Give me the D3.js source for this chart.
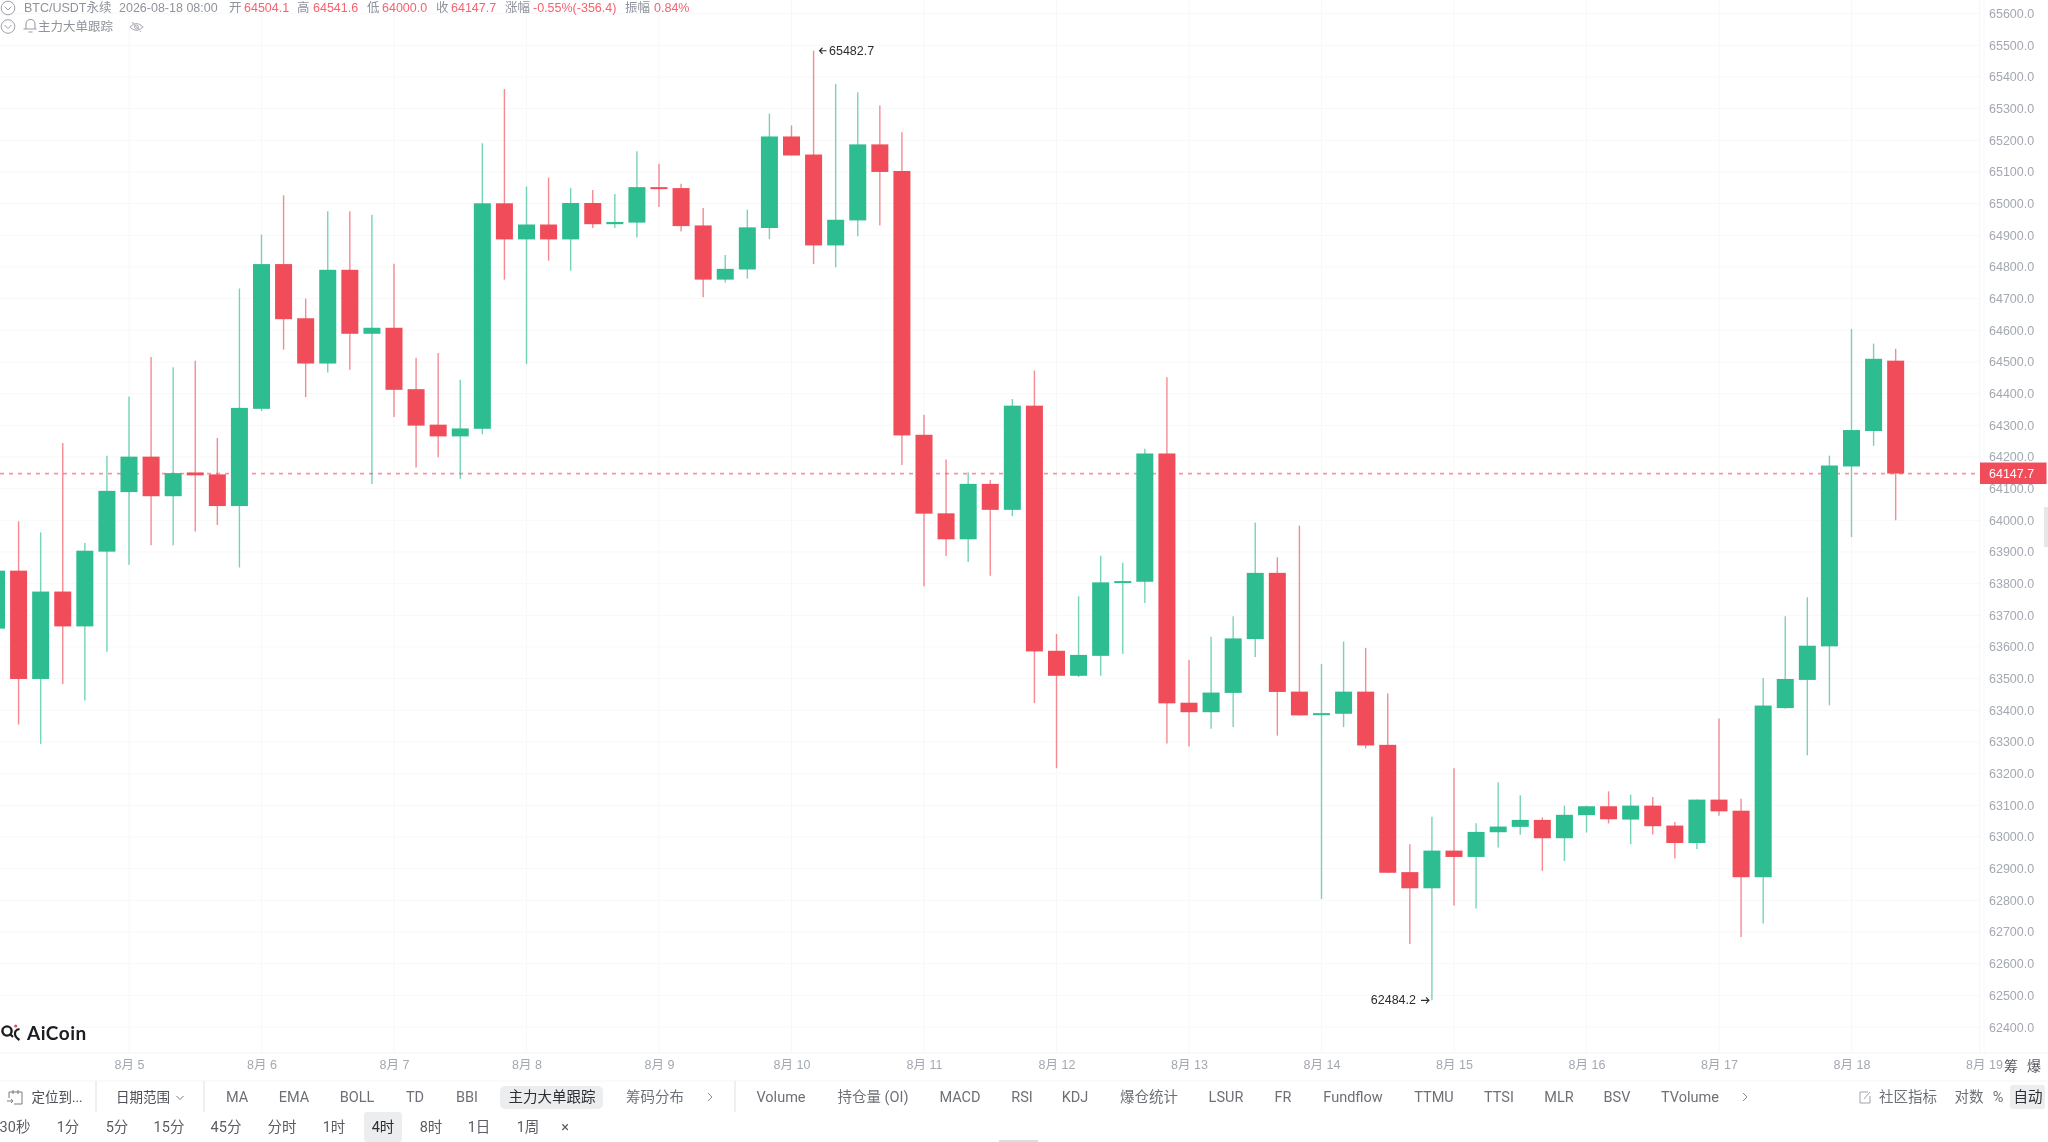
<!DOCTYPE html>
<html lang="zh">
<head>
<meta charset="UTF-8">
<title>BTC/USDT 4h</title>
<script src="https://cdn.jsdelivr.net/npm/d3@7"></script>
<style>
    html, body { margin: 0; padding: 0; background: #fff; overflow: hidden; }
    svg { display: block; filter: blur(0.35px); }
    text { font-family: "Liberation Sans", "Noto Sans CJK SC", sans-serif; }
    .bar text { font-family: Roboto, "Noto Sans CJK SC", sans-serif; font-size: 14.5px; fill: #6d7076; text-anchor: middle; }
    .axis text { font-size: 12.5px; fill: #a3a8b1; }
    .axis path, .axis line { display: none; }
</style>
</head>
<body>
<svg id="chart" width="2048" height="1142"></svg>
<script>
    // candles are 4h, index 0 = 8月5 00:00
    var firstIndex = -6;
    var candleOpen = [
        63658, 63841, 63499, 63775, 63665, 63901, 64089, 64201, 64076, 64151, 64145, 64045,
        64352, 64809, 64638, 64495, 64791, 64589, 64608, 64414, 64302, 64265, 64289, 65001,
        64887, 64934, 64887, 65002, 64935, 64940, 65052, 65049, 64931, 64760, 64792, 64923,
        65212, 65155, 64868, 64947, 65187, 65103, 64270, 64022, 63940, 64115, 64033, 64362,
        63588, 63509, 63572, 63803, 63806, 64211, 63424, 63394, 63455, 63625, 63834, 63459,
        63385, 63389, 63459, 63291, 62889, 62838, 62957, 62937, 63015, 63032, 63054, 62996,
        63069, 63097, 63055, 63099, 63036, 62981, 63118, 63083, 62873, 63407, 63496, 63602,
        64170, 64282, 64504.1
    ];
    var candleHigh = [
        63860, 63997, 63962, 64244, 63928, 64204, 64391, 64516, 64483, 64504, 64260, 64732,
        64902, 65026, 64700, 64976, 64976, 64965, 64810, 64513, 64528, 64444, 65191, 65362,
        65054, 65082, 65049, 65043, 65030, 65165, 65126, 65063, 64986, 64838, 64981, 65284,
        65247, 65482.7, 65378, 65352, 65310, 65225, 64333, 64192, 64152, 64127, 64383, 64473,
        63641, 63760, 63888, 63866, 64226, 64452, 63559, 63632, 63697, 63993, 63883, 63983,
        63546, 63617, 63597, 63453, 62977, 63064, 63217, 63043, 63173, 63132, 63062, 63099,
        63099, 63144, 63134, 63126, 63047, 63118, 63374, 63121, 63502, 63697, 63757, 64204,
        64604, 64558, 64541.6
    ];
    var candleLow = [
        63640, 63355, 63294, 63483, 63431, 63585, 63860, 63921, 63921, 63965, 63985, 63851,
        64345, 64539, 64389, 64467, 64475, 64115, 64326, 64167, 64199, 64131, 64272, 64760,
        64494, 64820, 64788, 64923, 64923, 64893, 64989, 64912, 64704, 64751, 64763, 64888,
        65152, 64809, 64799, 64897, 64931, 64175, 63792, 63887, 63868, 63825, 64013, 63423,
        63217, 63505, 63509, 63579, 63739, 63295, 63286, 63342, 63347, 63568, 63320, 63384,
        62804, 63347, 63280, 62887, 62662, 62484.2, 62784, 62774, 62967, 63007, 62893, 62924,
        63014, 63043, 62977, 63008, 62932, 62962, 63067, 62684, 62727, 63405, 63258, 63416,
        63947, 64235, 64000
    ];
    var candleClose = [
        63841, 63499, 63775, 63665, 63904, 64093, 64201, 64076, 64149, 64142, 64045, 64355,
        64809, 64635, 64495, 64791, 64589, 64608, 64412, 64299, 64265, 64290, 65001, 64887,
        64934, 64887, 65002, 64935, 64942, 65052, 65047, 64929, 64760, 64794, 64925, 65212,
        65152, 64868, 64949, 65187, 65100, 64268, 64021, 63940, 64115, 64033, 64362, 63586,
        63509, 63575, 63804, 63808, 64211, 63422, 63394, 63456, 63627, 63834, 63458, 63384,
        63391, 63459, 63289, 62887, 62838, 62957, 62937, 63016, 63033, 63054, 62996, 63070,
        63097, 63056, 63099, 63034, 62981, 63118, 63081, 62873, 63415, 63499, 63604, 64173,
        64285, 64510, 64147.7
    ];

    var priceTicks = d3.range(62400, 65601, 100);
    var dayIndex = [0, 6, 12, 18, 24, 30, 36, 42, 48, 54, 60, 66, 72, 78, 84];
    var dayLabels = ["8月 5", "8月 6", "8月 7", "8月 8", "8月 9", "8月 10", "8月 11", "8月 12",
        "8月 13", "8月 14", "8月 15", "8月 16", "8月 17", "8月 18", "8月 19"];

    var lastPrice = 64147.7, highPrice = 65482.7, lowPrice = 62484.2;

    var topBarLabels = ["定位到...", "日期范围", "MA", "EMA", "BOLL", "TD", "BBI", "主力大单跟踪", "筹码分布",
        "Volume", "持仓量 (OI)", "MACD", "RSI", "KDJ", "爆仓统计", "LSUR", "FR", "Fundflow",
        "TTMU", "TTSI", "MLR", "BSV", "TVolume", "社区指标", "对数", "%", "自动"];
    var topBarCenters = [57, 143, 237, 294, 357, 415, 467, 552, 655,
        781, 873, 960, 1022, 1075, 1149, 1226, 1283, 1353,
        1434, 1499, 1559, 1617, 1690, 1908, 1969, 1998, 2028];
    var periodLabels = ["30秒", "1分", "5分", "15分", "45分", "分时", "1时", "4时", "8时", "1日", "1周", "×"];
    var periodCenters = [15, 68, 117, 169, 226, 282, 334, 383, 431, 479, 528, 565];

    var width = 2048, plotRight = 1980, plotBottom = 1053;
    var green = "#2ebc91", red = "#f04c59";

    var svg = d3.select("#chart");

    var x = d3.scaleLinear().domain([0, 78]).range([129, 1851.5]);
    var y = d3.scaleLinear().domain([62400, 65600]).range([1027, 13.6]);

    // grid
    svg.append("g").selectAll("line").data(priceTicks).enter().append("line")
        .attr("x1", 0).attr("x2", plotRight)
        .attr("y1", function(d) { return y(d); }).attr("y2", function(d) { return y(d); })
        .attr("stroke", "#f8f8f9");
    svg.append("g").selectAll("line").data(dayIndex).enter().append("line")
        .attr("x1", function(d) { return x(d); }).attr("x2", function(d) { return x(d); })
        .attr("y1", 0).attr("y2", plotBottom)
        .attr("stroke", "#f8f8f9");
    svg.append("line").attr("x1", plotRight).attr("x2", plotRight).attr("y1", 0).attr("y2", plotBottom).attr("stroke", "#f4f5f6");
    svg.append("line").attr("x1", 0).attr("x2", width).attr("y1", plotBottom).attr("y2", plotBottom).attr("stroke", "#f4f5f6");
    svg.append("line").attr("x1", 0).attr("x2", width).attr("y1", 1081).attr("y2", 1081).attr("stroke", "#f5f5f6");

    // axes
    svg.append("g").attr("class", "axis").attr("transform", "translate(" + plotRight + ",0)")
        .call(d3.axisRight(y).tickValues(priceTicks).tickFormat(d3.format(".1f")).tickSize(0).tickPadding(9));
    svg.append("g").attr("class", "axis").attr("transform", "translate(0," + plotBottom + ")")
        .call(d3.axisBottom(x).tickValues(dayIndex).tickFormat(function(d, i) { return dayLabels[i]; }).tickSize(0).tickPadding(7.5));

    // last price line sits under the candles' wicks but over the grid
    svg.append("line").attr("x1", 0).attr("x2", plotRight)
        .attr("y1", y(lastPrice)).attr("y2", y(lastPrice))
        .attr("stroke", "#ff929b").attr("stroke-width", 1.7).attr("stroke-dasharray", "4 5");

    // candles
    var candles = candleOpen.map(function(o, i) {
        return { i: firstIndex + i, open: o, high: candleHigh[i], low: candleLow[i], close: candleClose[i] };
    });
    var bodyWidth = 17;
    function candleColor(d) { return d.close >= d.open ? green : red; }

    var g = svg.append("g").selectAll("g").data(candles).enter().append("g");
    g.append("line")
        .attr("x1", function(d) { return x(d.i); }).attr("x2", function(d) { return x(d.i); })
        .attr("y1", function(d) { return y(d.high); }).attr("y2", function(d) { return y(d.low); })
        .attr("stroke", candleColor).attr("stroke-width", 1.4).attr("stroke-opacity", 0.65);
    g.append("rect")
        .attr("x", function(d) { return x(d.i) - bodyWidth / 2; })
        .attr("width", bodyWidth)
        .attr("y", function(d) { return y(Math.max(d.open, d.close)); })
        .attr("height", function(d) { return Math.max(2, Math.abs(y(d.open) - y(d.close))); })
        .attr("fill", candleColor);

    // high / low marks
    svg.append("text").attr("x", 829).attr("y", y(highPrice) - 0.6).attr("dy", "0.35em")
        .attr("font-size", 12.5).attr("fill", "#2a2c30").text("65482.7");
    svg.append("text").attr("x", 1416).attr("y", y(lowPrice) - 0.6).attr("dy", "0.35em")
        .attr("text-anchor", "end").attr("font-size", 12.5).attr("fill", "#2a2c30").text("62484.2");
    svg.append("path").attr("d", "M826.5 " + y(highPrice) + "H819.5m3 -3l-3 3l3 3").attr("fill", "none").attr("stroke", "#2a2c30").attr("stroke-width", 1.1);
    svg.append("path").attr("d", "M1421 " + y(lowPrice) + "H1429m-3 -3l3 3l-3 3").attr("fill", "none").attr("stroke", "#2a2c30").attr("stroke-width", 1.1);

    // last price tag
    svg.append("rect").attr("x", plotRight).attr("y", y(lastPrice) - 11).attr("width", 66.5).attr("height", 21.5).attr("fill", red);
    svg.append("text").attr("x", 1989).attr("y", y(lastPrice)).attr("dy", "0.35em")
        .attr("font-size", 12.5).attr("fill", "#fff").text("64147.7");

    // header
    var legend = svg.append("g").attr("font-size", 12.5);
    var legendParts = [
        ["BTC/USDT永续", 24, "#8f939b"], ["2026-08-18 08:00", 119, "#8f939b"],
        ["开", 229, "#8f939b"], ["64504.1", 244, "#f5636f"],
        ["高", 297, "#8f939b"], ["64541.6", 313, "#f5636f"],
        ["低", 367, "#8f939b"], ["64000.0", 382, "#f5636f"],
        ["收", 436, "#8f939b"], ["64147.7", 451, "#f5636f"],
        ["涨幅", 505, "#8f939b"], ["-0.55%(-356.4)", 533, "#f5636f"],
        ["振幅", 625, "#8f939b"], ["0.84%", 654, "#f5636f"]
    ];
    legend.selectAll("text").data(legendParts).enter().append("text")
        .attr("x", function(d) { return d[1]; }).attr("y", 8).attr("dy", "0.35em")
        .attr("fill", function(d) { return d[2]; }).text(function(d) { return d[0]; });
    svg.append("text").attr("x", 38).attr("y", 26.5).attr("dy", "0.35em").attr("font-size", 12.5).attr("fill", "#8f939b").text("主力大单跟踪");

    [8, 26.5].forEach(function(cy) {
        svg.append("circle").attr("cx", 8).attr("cy", cy).attr("r", 6.8).attr("fill", "#fff").attr("stroke", "#9a9ea6");
        svg.append("path").attr("d", "M4.5 " + (cy - 1.5) + "l3.5 3.5l3.5 -3.5").attr("fill", "none").attr("stroke", "#9a9ea6");
    });
    // bell
    svg.append("path").attr("d", "M26 29V24a4.5 4.5 0 0 1 9 0V29M23.5 29H36.5M28.5 32H32.5").attr("fill", "none").attr("stroke", "#9a9ea6").attr("stroke-width", 1.1);
    // eye off
    svg.append("path").attr("d", "M130 27q6.5 -7 13 0q-6.5 7 -13 0M132 22l9 10").attr("fill", "none").attr("stroke", "#a9adb4").attr("stroke-width", 1.1);
    svg.append("circle").attr("cx", 136.5).attr("cy", 27).attr("r", 2).attr("fill", "none").attr("stroke", "#a9adb4");

    // logo
    svg.append("circle").attr("cx", 7).attr("cy", 1031).attr("r", 4.6).attr("fill", "none").attr("stroke", "#1b1d21").attr("stroke-width", 2.4);
    svg.append("path").attr("d", "M10 1034l3 3M19.5 1029q-5 1 -4.5 5q0 3 4.5 6").attr("fill", "none").attr("stroke", "#1b1d21").attr("stroke-width", 2.2);
    svg.append("circle").attr("cx", 15.7).attr("cy", 1026).attr("r", 1.6).attr("fill", "#f04c59");
    svg.append("text").attr("x", 27).attr("y", 1033.5).attr("dy", "0.35em")
        .attr("font-size", 19).attr("font-weight", 700).attr("letter-spacing", 0.5).attr("fill", "#1b1d21").style("font-family", "Lato, sans-serif").text("AiCoin");

    // side labels on the time axis
    svg.append("text").attr("x", 2011).attr("y", 1066).attr("dy", "0.35em").attr("text-anchor", "middle").attr("font-size", 14).attr("fill", "#55585e").text("筹");
    svg.append("text").attr("x", 2034).attr("y", 1066).attr("dy", "0.35em").attr("text-anchor", "middle").attr("font-size", 14).attr("fill", "#55585e").text("爆");

    // toolbars
    var bar = svg.append("g").attr("class", "bar");
    bar.append("rect").attr("x", 500).attr("y", 1086).attr("width", 103).attr("height", 23).attr("rx", 5).attr("fill", "#ecedee");
    bar.append("rect").attr("x", 2010).attr("y", 1085).attr("width", 35).attr("height", 24).attr("rx", 3).attr("fill", "#ecedee");
    bar.append("rect").attr("x", 364).attr("y", 1112).attr("width", 38).attr("height", 30).attr("rx", 3).attr("fill", "#ecedee");

    bar.selectAll("text.top").data(topBarLabels).enter().append("text").attr("class", "top")
        .attr("x", function(d, i) { return topBarCenters[i]; }).attr("y", 1097).attr("dy", "0.35em")
        .style("fill", function(d) { return d == "主力大单跟踪" || d == "自动" ? "#2c2e33" : (d == "定位到..." || d == "日期范围" ? "#4c4f55" : "#6d7076"); })
        .style("font-size", function(d) { return d == "定位到..." || d == "日期范围" ? "13.5px" : null; })
        .text(function(d) { return d; });
    bar.selectAll("text.period").data(periodLabels).enter().append("text").attr("class", "period")
        .attr("x", function(d, i) { return periodCenters[i]; }).attr("y", 1127).attr("dy", "0.35em")
        .style("fill", function(d) { return d == "4时" ? "#2c2e33" : "#5a5d63"; })
        .text(function(d) { return d; });

    [96, 204, 735].forEach(function(sx) {
        bar.append("line").attr("x1", sx).attr("x2", sx).attr("y1", 1081).attr("y2", 1112).attr("stroke", "#e3e4e6").attr("stroke-width", 1.2);
    });
    // chevrons and small icons
    bar.append("path").attr("d", "M176.5 1096l3.5 3.5l3.5 -3.5").attr("fill", "none").attr("stroke", "#77797f");
    [710, 1745].forEach(function(cx) {
        bar.append("path").attr("d", "M" + (cx - 2) + " 1093l4 4l-4 4").attr("fill", "none").attr("stroke", "#8a8d93");
    });
    bar.append("path").attr("d", "M9 1092H22V1104H14M9 1092V1098M13 1090V1094M18 1090V1094M7 1101H13m-2 -2l2 2l-2 2").attr("fill", "none").attr("stroke", "#777a80");
    bar.append("path").attr("d", "M1868 1092H1860V1103H1870V1096M1864 1099l6 -7").attr("fill", "none").attr("stroke", "#a0a3a9");

    // handles at the page edge
    svg.append("rect").attr("x", 2044).attr("y", 507).attr("width", 4).attr("height", 40).attr("fill", "#e6e7e8");
    svg.append("rect").attr("x", 999).attr("y", 1140).attr("width", 39).attr("height", 2).attr("fill", "#dcdde0");
</script>
</body>
</html>
